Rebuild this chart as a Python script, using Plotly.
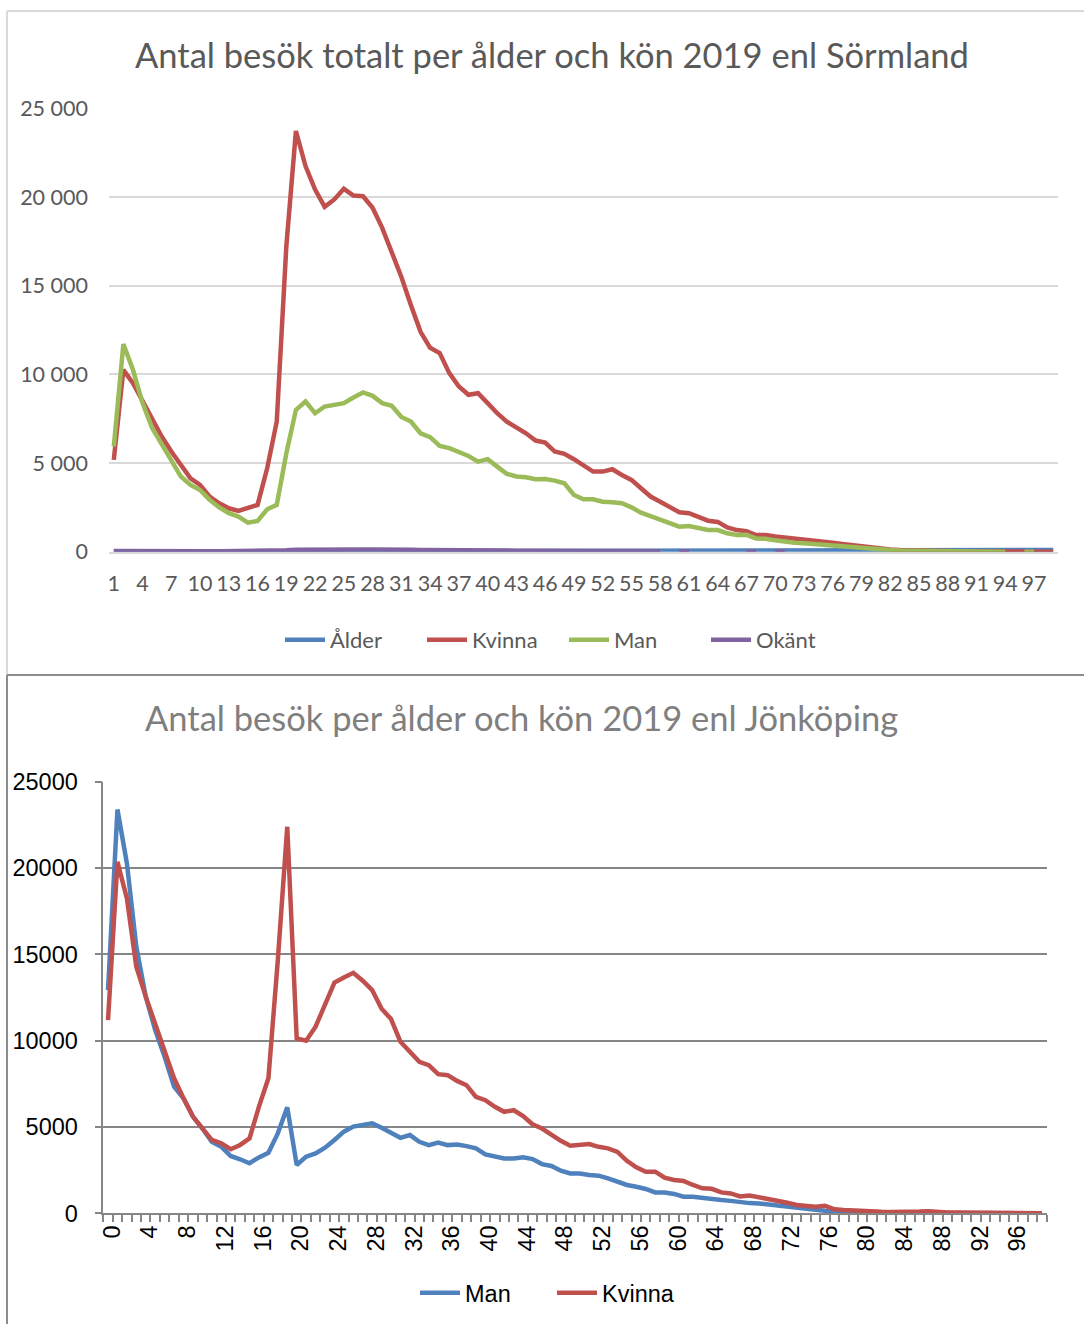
import plotly.graph_objects as go

# ---------------- Data: Sörmland (top chart) ----------------
ages_s = list(range(1, 100))
alder_s = list(range(1, 100))
kvinna_s = [5180, 10260, 9510, 8470, 7440, 6500, 5650, 4900, 4140, 3770,
            3110, 2730, 2450, 2300, 2450, 2640, 4710, 7340, 17230, 23730,
            21750, 20430, 19450, 19870, 20470, 20090, 20050, 19400, 18270, 16850,
            15500, 13900, 12400, 11500, 11200, 10070, 9320, 8850, 8940, 8380,
            7810, 7340, 7020, 6680, 6270, 6160, 5650, 5520, 5220, 4840,
            4520, 4520, 4650, 4330, 4050, 3580, 3110, 2820, 2500, 2220,
            2170, 1980, 1750, 1680, 1370, 1220, 1150, 940, 940, 860,
            810, 700, 660, 600, 550, 510, 430, 360, 280, 220,
            170, 130, 100, 80, 60, 50, 40, 35, 30, 25,
            20, 15, 12, 10, 8, 6, 5, 3, 2]
man_s = [5930, 11710, 10260, 8380, 6970, 6030, 5080, 4240, 3770, 3480,
         2920, 2500, 2170, 1980, 1640, 1730, 2390, 2640, 5550, 8000,
         8470, 7810, 8190, 8290, 8380, 8700, 8980, 8790, 8380, 8230,
         7600, 7340, 6680, 6460, 5970, 5840, 5650, 5400, 5080, 5220,
         4800, 4390, 4240, 4200, 4090, 4100, 4010, 3860, 3200, 2960,
         2960, 2820, 2790, 2730, 2500, 2200, 2010, 1830, 1640, 1410,
         1450, 1360, 1220, 1220, 1040, 940, 950, 750, 730, 640,
         550, 510, 480, 430, 400, 360, 300, 240, 190, 140,
         110, 90, 70, 55, 40, 30, 25, 20, 15, 12,
         10, 8, 6, 4, None, 3, 2, None, None]
okant_s = [40, 45, 45, 50, 45, 40, 40, 35, 35, 35,
           30, 30, 30, 30, 35, 35, 40, 50, 80, 110,
           120, 125, 120, 130, 130, 120, 125, 120, 130, 120,
           110, 110, 100, 90, 90, 80, 100, 90, 80, 90,
           70, 70, 60, 60, 60, 50, 50, 50, 50, 40,
           40, 40, 40, 30, 30, 30, 30, 30, None, 20,
           20, None, None, None, None, None, 20, 20, None, 20,
           20] + [None] * 28

# ---------------- Data: Jönköping (bottom chart) ----------------
ages_j = list(range(0, 100))
man_j = [12930, 23390, 20270, 15440, 12550, 10620, 9070, 7330, 6660, 5600,
         4920, 4150, 3860, 3320, 3130, 2900, 3240, 3510, 4630, 6140,
         2800, 3280, 3470, 3800, 4250, 4730, 5020, 5110, 5210, 4950,
         4640, 4370, 4530, 4140, 3950, 4100, 3950, 3990, 3890, 3760,
         3410, 3310, 3180, 3180, 3240, 3140, 2850, 2740, 2470, 2310,
         2310, 2220, 2180, 2020, 1830, 1640, 1540, 1410, 1210, 1210,
         1120, 960, 960, 880, 840, 770, 720, 640, 590, 570,
         500, 460, 380, 320, 260, 200, 150, 80, 50, 40,
         35, 30, 28, 25, 22, 20, 18, 16, 14, 12,
         10, 9, 8, 7, 6, 5, 4, 3, 2, 1]
kvinna_j = [11190, 20360, 18240, 14280, 12550, 11000, 9260, 7820, 6660, 5600,
            4920, 4250, 4050, 3710, 3960, 4340, 6180, 7820, 14670, 22390,
            10130, 10000, 10810, 12160, 13360, 13660, 13930, 13470, 12930, 11850,
            11250, 9930, 9350, 8770, 8580, 8060, 8000, 7670, 7420, 6740,
            6550, 6170, 5880, 5970, 5630, 5160, 4910, 4530, 4200, 3910,
            3950, 4010, 3850, 3760, 3560, 3040, 2660, 2410, 2410, 2060,
            1930, 1870, 1640, 1450, 1420, 1210, 1150, 980, 1030, 940,
            810, 750, 615, 480, 460, 385, 440, 230, 190, 150,
            130, 110, 90, 80, 70, 80, 100, 120, 60, 50,
            40, 35, 30, 25, 20, 15, 12, 10, 6, 4]

# Tick labels
top_xticks = list(range(1, 98, 3))
top_xlabels = [str(v) for v in top_xticks]
top_yticks = [0, 5000, 10000, 15000, 20000, 25000]
top_ylabels = ["0", "5 000", "10 000", "15 000", "20 000", "25 000"]
bot_xticks = list(range(0, 97, 4))
bot_xlabels = [str(v) for v in bot_xticks]
bot_yticks = [0, 5000, 10000, 15000, 20000, 25000]
bot_ylabels = ["0", "5000", "10000", "15000", "20000", "25000"]

W, H = 1084, 1324
def px(x):
    return x / W
def py(y):
    return 1 - y / H

BLUE = "#4F81BD"
RED = "#C0504D"
GREEN = "#9BBB59"
PURPLE = "#8064A2"

fig = go.Figure()
lw = 4.5
fig.add_trace(go.Scatter(x=ages_s, y=alder_s, name="Ålder", mode="lines",
                         line=dict(color=BLUE, width=lw), xaxis="x", yaxis="y", legend="legend"))
fig.add_trace(go.Scatter(x=ages_s, y=kvinna_s, name="Kvinna", mode="lines",
                         line=dict(color=RED, width=lw), xaxis="x", yaxis="y", legend="legend"))
fig.add_trace(go.Scatter(x=ages_s, y=man_s, name="Man", mode="lines",
                         line=dict(color=GREEN, width=lw), xaxis="x", yaxis="y", legend="legend"))
fig.add_trace(go.Scatter(x=ages_s, y=okant_s, name="Okänt", mode="lines",
                         line=dict(color=PURPLE, width=lw), xaxis="x", yaxis="y", legend="legend"))

fig.add_trace(go.Scatter(x=ages_j, y=man_j, name="Man", mode="lines",
                         line=dict(color=BLUE, width=lw), xaxis="x2", yaxis="y2", legend="legend2"))
fig.add_trace(go.Scatter(x=ages_j, y=kvinna_j, name="Kvinna", mode="lines",
                         line=dict(color=RED, width=lw), xaxis="x2", yaxis="y2", legend="legend2"))

TOPFONT = "Lato"
BOTFONT = "Liberation Sans"
GRAYTXT = "#595959"

fig.update_layout(
    template="none",
    width=W, height=H,
    margin=dict(l=0, r=0, t=0, b=0, pad=0, autoexpand=False),
    paper_bgcolor="white", plot_bgcolor="white",
    showlegend=True,
    xaxis=dict(domain=[px(109), px(1058)], range=[0.5, 99.5], anchor="y", automargin=False,
               tickmode="array", tickvals=top_xticks, ticktext=top_xlabels,
               showgrid=False, zeroline=False, showline=True, linecolor="#d9d9d9", linewidth=1.5,
               ticks="", tickfont=dict(family=TOPFONT, size=21.5, color=GRAYTXT),
               ticklabelstandoff=12),
    yaxis=dict(domain=[py(551.7), py(108.5)], range=[0, 25000], anchor="x", automargin=False,
               tickmode="array", tickvals=top_yticks, ticktext=top_ylabels,
               showgrid=True, gridcolor="#d9d9d9", gridwidth=1.5, zeroline=False,
               showline=False, ticks="",
               tickfont=dict(family=TOPFONT, size=21.5, color=GRAYTXT),
               ticklabelstandoff=20),
    xaxis2=dict(domain=[px(103.3), px(1046.7)], range=[-0.5, 99.5], anchor="y2", automargin=False,
                tickmode="array", tickvals=bot_xticks, ticktext=bot_xlabels,
                tickangle=-90, showgrid=False, zeroline=False,
                showline=True, linecolor="#868686", linewidth=1.5,
                ticks="", ticklen=0,
                minor=dict(tickmode="linear", tick0=-0.5, dtick=1, ticks="outside",
                           ticklen=7, tickcolor="#868686", tickwidth=1.5, showgrid=False),
                tickfont=dict(family=BOTFONT, size=23.5, color="black"),
                ticklabelstandoff=1, ticklabelshift=4),
    yaxis2=dict(domain=[py(1213.3), py(781.7)], range=[0, 25000], anchor="x2", automargin=False,
                tickmode="array", tickvals=bot_yticks, ticktext=bot_ylabels,
                showgrid=True, gridcolor="#868686", gridwidth=1.5, zeroline=False,
                showline=True, linecolor="#868686", linewidth=1.5,
                ticks="outside", ticklen=7, tickcolor="#868686", tickwidth=1.5,
                tickfont=dict(family=BOTFONT, size=23.5, color="black"),
                ticklabelstandoff=12),
    legend=dict(orientation="h", x=px(280), xanchor="left", y=py(640), yanchor="middle",
                font=dict(family=TOPFONT, size=22, color=GRAYTXT),
                bgcolor="rgba(0,0,0,0)", itemwidth=40, tracegroupgap=0,
                entrywidth=87, entrywidthmode="pixels"),
    legend2=dict(orientation="h", x=px(415), xanchor="left", y=py(1293), yanchor="middle",
                 font=dict(family=BOTFONT, size=23.5, color="black"),
                 bgcolor="rgba(0,0,0,0)", itemwidth=40,
                 entrywidth=82, entrywidthmode="pixels"),
    annotations=[
        dict(text="Antal besök totalt per ålder och kön 2019 enl Sörmland",
             x=px(551.5), y=py(55), xref="paper", yref="paper", showarrow=False,
             xanchor="center", yanchor="middle",
             font=dict(family=TOPFONT, size=34.5, color=GRAYTXT)),
        dict(text="Antal besök per ålder och kön 2019 enl Jönköping",
             x=px(521), y=py(717), xref="paper", yref="paper", showarrow=False,
             xanchor="center", yanchor="middle",
             font=dict(family=TOPFONT, size=34.5, color="#7f7f7f")),
    ],
    shapes=[
        dict(type="line", xref="paper", yref="paper", x0=px(7), x1=1.0, y0=py(11), y1=py(11),
             line=dict(color="#d9d9d9", width=2)),
        dict(type="line", xref="paper", yref="paper", x0=px(7), x1=px(7), y0=py(11), y1=py(675),
             line=dict(color="#d9d9d9", width=2)),
        dict(type="line", xref="paper", yref="paper", x0=px(7), x1=1.0, y0=py(675), y1=py(675),
             line=dict(color="#8c8c8c", width=2)),
        dict(type="line", xref="paper", yref="paper", x0=px(7), x1=px(7), y0=py(675), y1=0,
             line=dict(color="#8c8c8c", width=2)),
    ],
)

fig.write_html("out.html", config={"displayModeBar": False},
               post_script="document.body.style.margin='0';")
